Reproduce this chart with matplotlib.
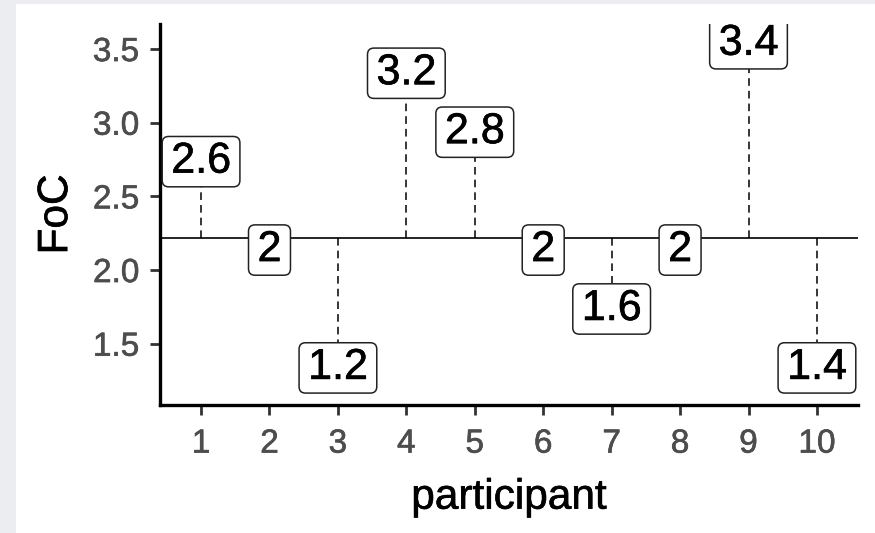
"""FoC per participant, deviations from the mean."""

import matplotlib

matplotlib.use("Agg")
import matplotlib.patheffects as pe  # noqa: E402
import matplotlib.pyplot as plt  # noqa: E402
from matplotlib.patches import BoxStyle, Rectangle  # noqa: E402

participants = [1, 2, 3, 4, 5, 6, 7, 8, 9, 10]
foc = [2.6, 2.0, 1.2, 3.2, 2.8, 2.0, 1.6, 2.0, 3.4, 1.4]
label_text = ["2.6", "2", "1.2", "3.2", "2.8", "2", "1.6", "2", "3.4", "1.4"]
# where the label boxes sit (repelled labels)
label_y = [2.6, 2.0, 1.2, 3.2, 2.8, 2.0, 1.6, 2.0, 3.4, 1.2]
y_ticks = [1.5, 2.0, 2.5, 3.0, 3.5]

plt.rcParams["font.family"] = ["Liberation Sans", "DejaVu Sans"]

_round = BoxStyle.Round(pad=0.12, rounding_size=0.15)


def label_box(x0, y0, width, height, mutation_size):
    # a little more room left and right than above and below
    extra = 0.09 * mutation_size
    return _round(x0 - extra, y0, width + 2 * extra, height, mutation_size)


def heavier(color):
    # the reference text is rendered a bit heavier than plain Liberation Sans
    return [pe.withStroke(linewidth=0.45, foreground=color)]


W, H = 875, 533
fig = plt.figure(figsize=(W / 100, H / 100), dpi=100)
fig.patch.set_facecolor("#ebedf0")
fig.patches.append(Rectangle((16 / W, 0), 1, 1 - 4 / H, transform=fig.transFigure,
                             facecolor="white", edgecolor="none", zorder=-10))

ax = fig.add_axes([160 / W, (H - 405) / H, (858 - 160) / W, (405 - 24) / H])
ax.set_facecolor("white")

mean = sum(foc) / len(foc)
ax.axhline(mean, color="black", lw=1.2, zorder=1)
for x, ly in zip(participants, label_y):
    ax.plot([x, x], [mean, ly], color="black", lw=1.1, ls=(0, (5, 3.3)), zorder=1)

for x, ly, txt in zip(participants, label_y, label_text):
    ax.text(x, ly, txt, ha="center", va="bottom", fontsize=31, color="black",
            zorder=3, clip_on=True, path_effects=heavier("black"),
            bbox=dict(boxstyle=label_box, facecolor="white",
                      edgecolor="#222222", lw=1.1))

ax.set_xlim(0.4, 10.6)
ax.set_ylim(1.084, 3.67)
ax.set_xticks(participants)
ax.set_yticks(y_ticks)
ax.set_yticklabels([f"{v:.1f}" for v in y_ticks])
ax.tick_params(axis="both", labelsize=24, labelcolor="#4d4d4d", color="#333333",
               length=7, width=2.0)
ax.tick_params(axis="x", pad=10)
ax.tick_params(axis="y", pad=8)
for lbl in ax.get_xticklabels() + ax.get_yticklabels():
    lbl.set_path_effects(heavier("#4d4d4d"))
for side in ("top", "right"):
    ax.spines[side].set_visible(False)
for side in ("left", "bottom"):
    ax.spines[side].set_linewidth(2.4)
    ax.spines[side].set_color("black")

ax.set_xlabel("participant", fontsize=30.5, labelpad=13,
              path_effects=heavier("black"))
ax.set_ylabel("FoC", fontsize=30.5, labelpad=12, path_effects=heavier("black"))

fig.savefig("out.png", dpi=100)
plt.close(fig)
